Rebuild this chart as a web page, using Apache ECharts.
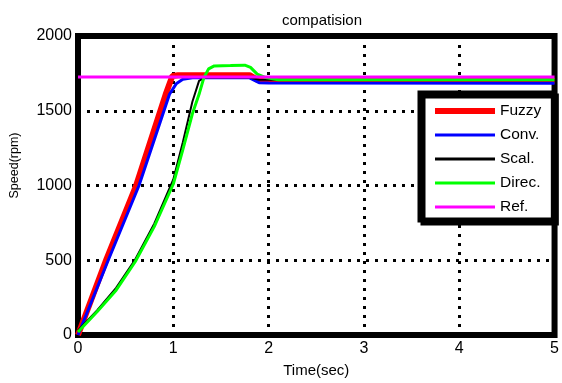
<!DOCTYPE html>
<html>
<head>
<meta charset="utf-8">
<script src="https://cdn.jsdelivr.net/npm/echarts@6/dist/echarts.min.js"></script>
<style>
  html, body { margin: 0; padding: 0; background: #fff; }
  #main { width: 562px; height: 383px; }
</style>
</head>
<body>
<div id="main"></div>
<script>
const FontName = 'Liberation Sans, Arial, sans-serif';

const seriesNames = ['Fuzzy', 'Conv.', 'Scal.', 'Direc.', 'Ref.'];
const seriesColors = ['#ff0000', '#0000ff', '#000000', '#00ff00', '#ff00ff'];
const seriesWidths = [6, 3, 2, 3, 3];

// [time (sec), speed (rpm)]
const fuzzyData = [[0, 0], [0.3, 510], [0.61, 1000], [0.92, 1610], [0.99, 1732], [1.05, 1738], [1.8, 1738], [1.88, 1708], [2.0, 1702], [5, 1700]];
const convData = [[0, 0], [0.33, 520], [0.64, 1000], [0.96, 1610], [1.03, 1680], [1.1, 1710], [1.2, 1720], [1.8, 1720], [1.9, 1688], [2.0, 1685], [5, 1684]];
const scalData = [[0, 30], [0.2, 165], [0.4, 315], [0.6, 505], [0.8, 745], [1.0, 1040], [1.1, 1290], [1.2, 1560], [1.27, 1700], [1.33, 1722], [1.8, 1722], [1.9, 1708], [5, 1705]];
const direcData = [[0, 20], [0.2, 155], [0.4, 300], [0.6, 490], [0.8, 725], [1.0, 1010], [1.1, 1240], [1.2, 1480], [1.27, 1610], [1.32, 1720], [1.37, 1780], [1.43, 1800], [1.6, 1802], [1.75, 1805], [1.81, 1790], [1.88, 1745], [1.97, 1722], [2.1, 1708], [5, 1707]];
const refData = [[0, 1725], [5, 1725]];

const xTicks = { min: 0, max: 5, interval: 1 };
const yTicks = { min: 0, max: 2000, interval: 500 };

const allData = [fuzzyData, convData, scalData, direcData, refData];

var chart = echarts.init(document.getElementById('main'), null, { renderer: 'canvas' });

var series = [];
var legendData = [];
for (var i = 0; i < seriesNames.length; i++) {
  series.push({
    name: seriesNames[i],
    type: 'line',
    data: allData[i],
    symbol: 'none',
    smooth: false,
    animation: false,
    lineStyle: { color: seriesColors[i], width: seriesWidths[i] },
    itemStyle: { color: seriesColors[i] },
    z: 3 + i
  });
  legendData.push({
    name: seriesNames[i],
    lineStyle: { color: seriesColors[i], width: i === 0 ? 6 : 3 }
  });
}

var option = {
  backgroundColor: '#ffffff',
  animation: false,
  textStyle: { fontFamily: FontName },
  title: {
    text: 'compatision',
    left: 317,
    top: 8,
    textAlign: 'center',
    textStyle: { fontSize: 15, fontWeight: 'normal', color: '#000', fontFamily: FontName }
  },
  grid: {
    left: 78,
    right: 5,
    top: 36,
    bottom: 45,
    show: true,
    borderColor: '#000',
    borderWidth: 6,
    backgroundColor: '#fff'
  },
  legend: {
    orient: 'vertical',
    left: 420,
    top: 93,
    padding: [10, 12, 5, 12],
    itemWidth: 60,
    itemHeight: 14,
    itemGap: 8,
    backgroundColor: '#fff',
    borderColor: '#000',
    borderWidth: 5,
    shadowColor: '#000',
    shadowBlur: 0,
    shadowOffsetX: 3,
    shadowOffsetY: 3,
    itemStyle: { opacity: 0 },
    textStyle: { fontSize: 15.5, color: '#000', fontFamily: FontName },
    data: legendData
  },
  xAxis: {
    type: 'value',
    min: xTicks.min,
    max: xTicks.max,
    interval: xTicks.interval,
    name: 'Time(sec)',
    nameLocation: 'middle',
    nameGap: 28,
    nameTextStyle: { fontSize: 15, color: '#000', fontFamily: FontName },
    axisLine: { show: false },
    axisTick: { show: false },
    axisLabel: { fontSize: 16, color: '#000', margin: 6, fontFamily: FontName },
    splitLine: { show: true, lineStyle: { color: '#000', width: 3, type: [3, 6] } }
  },
  yAxis: {
    type: 'value',
    min: yTicks.min,
    max: yTicks.max,
    interval: yTicks.interval,
    name: 'Speed(rpm)',
    nameLocation: 'middle',
    nameGap: 57,
    nameTextStyle: { fontSize: 12.5, color: '#000', fontFamily: FontName, padding: [0, 0, 0, 40] },
    axisLine: { show: false },
    axisTick: { show: false },
    axisLabel: {
      fontSize: 16,
      color: '#000',
      margin: 6,
      fontFamily: FontName,
      formatter: function (v) { return String(v); }
    },
    splitLine: { show: true, lineStyle: { color: '#000', width: 3, type: [3, 6] } }
  },
  series: series
};

chart.setOption(option);
</script>
</body>
</html>
